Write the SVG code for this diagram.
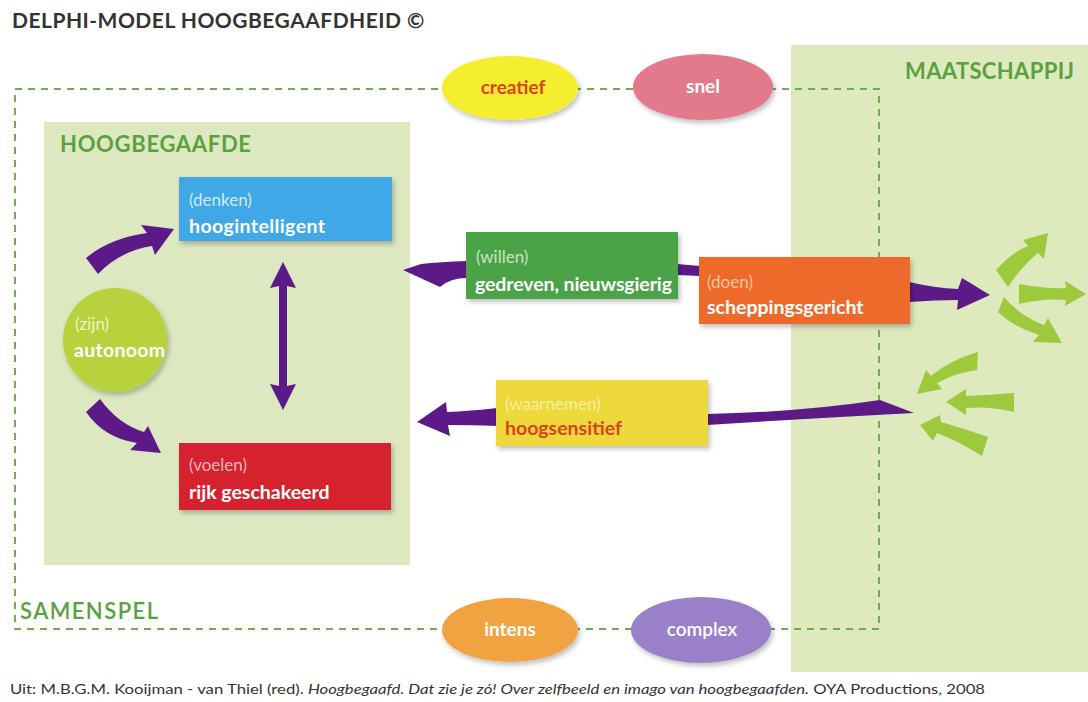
<svg xmlns="http://www.w3.org/2000/svg" width="1088" height="702" viewBox="0 0 1088 702">
<defs>
<filter id="sh" x="-10%" y="-10%" width="130%" height="140%">
<feDropShadow dx="2" dy="3" stdDeviation="2.5" flood-color="#000" flood-opacity="0.25"/>
</filter>
<style>
.t{font-family:Lato,"Open Sans","Liberation Sans",sans-serif}
.lbl{font-weight:700;fill:#5aa140;font-size:22px;letter-spacing:1px}
.sub{font-size:17px;font-weight:400}
.main{font-size:19.5px;font-weight:700;fill:#fff}
.pur{fill:#5c1a88}
.lg{fill:#9dc93c}
.dash{fill:none;stroke:#6fae4f;stroke-width:2;stroke-dasharray:7 6}
</style>
</defs>
<rect width="1088" height="702" fill="#fff"/>
<text class="t" x="12" y="28" font-size="21" font-weight="700" fill="#333" letter-spacing="0.6" textLength="413">DELPHI-MODEL HOOGBEGAAFDHEID ©</text>

<g id="maatschappij">
<rect x="791" y="45" width="297" height="627" fill="#dfe9be"/>
<text class="t lbl" x="905" y="79" textLength="170">MAATSCHAPPIJ</text>
</g>
<g id="hoogbegaafde">
<rect x="44" y="122" width="366" height="443" fill="#dde8c1"/>
<text class="t lbl" x="60" y="152" textLength="192">HOOGBEGAAFDE</text>
</g>
<g id="samenspel">
<rect class="dash" x="15" y="89" width="864" height="540"/>
<text class="t" x="20" y="619" font-size="22" font-weight="600" fill="#5aa140" textLength="138">SAMENSPEL</text>
</g>

<g id="connectors">
<path class="pur" d="M 86 258 Q 110 238 147 233 L 141 225 L 174 229 L 155 255 L 152 246 Q 120 251 98 274 Z"/>
<path class="pur" d="M 86 412 L 100 399 Q 118 424 144 432 L 148 426 L 161 453 L 130 450 L 137 443 Q 104 438 86 412 Z"/>
<path class="pur" d="M 283 262 L 296 288 L 287 286 L 287 386 L 296 384 L 283 410 L 270 384 L 279 386 L 279 286 L 270 288 Z"/>
<path class="pur" d="M 467 261 Q 440 262 421 264 L 403 270 L 440 287 Q 450 278 467 278 Z"/>
<path class="pur" d="M 677 264 L 700 266 L 700 276 L 677 275 Z"/>
<path class="pur" d="M 909 282 Q 935 288 958 289 L 962 278 L 990 295 L 957 310 L 958 300 Q 935 300 909 302 Z"/>
<path class="pur" d="M 707 414 Q 800 412 880 400 L 914 413 Q 800 419 707 425 Z"/>
<path class="pur" d="M 497 408 Q 470 411 447 412 L 446 402 L 417 422 L 450 436 L 448 425 Q 470 425 497 426 Z"/>
</g>

<g id="maatschappij-arrows">
<path class="lg" d="M 996 270 Q 1012 252 1028 246 L 1023 240 L 1048 233 L 1044 259 L 1038 253 Q 1022 266 1008 287 Z"/>
<path class="lg" d="M 1019 284 Q 1045 289 1066 288 L 1065 281 L 1086 294 L 1065 306 L 1066 300 Q 1045 298 1019 304 Z"/>
<path class="lg" d="M 1004 297 Q 1020 316 1044 325 L 1048 318 L 1062 343 L 1033 342 L 1039 335 Q 1012 326 998 312 Z"/>
<path class="lg" d="M 978 352 Q 950 360 931 376 L 926 370 L 917 394 L 942 389 L 937 383 Q 955 373 977 370 Z"/>
<path class="lg" d="M 1014 393 Q 990 395 966 396 L 966 389 L 946 402 L 966 415 L 966 408 Q 990 406 1014 412 Z"/>
<path class="lg" d="M 988 437 Q 962 428 941 422 L 940 415 L 920 425 L 933 441 L 937 433 Q 960 442 982 456 Z"/>
</g>

<g id="creatief">
<ellipse cx="510" cy="88" rx="68" ry="32" fill="#f5ee2d" filter="url(#sh)"/>
<text class="t" x="513" y="94" text-anchor="middle" font-size="19" font-weight="700" fill="#d8451c">creatief</text>
</g>
<g id="snel">
<ellipse cx="703" cy="87" rx="70" ry="33" fill="#e27a8b" filter="url(#sh)"/>
<text class="t" x="703" y="93" text-anchor="middle" font-size="19" font-weight="700" fill="#fff">snel</text>
</g>
<g id="intens">
<ellipse cx="510" cy="630" rx="68" ry="32" fill="#f0a33f" filter="url(#sh)"/>
<text class="t" x="510" y="636" text-anchor="middle" font-size="19" font-weight="700" fill="#fff">intens</text>
</g>
<g id="complex">
<ellipse cx="701" cy="630" rx="70" ry="33" fill="#9a7fc9" filter="url(#sh)"/>
<text class="t" x="702" y="636" text-anchor="middle" font-size="19" font-weight="600" fill="#fff">complex</text>
</g>

<g id="hoogintelligent">
<rect x="179" y="177" width="213" height="64" fill="#3fa8e6" filter="url(#sh)"/>
<text class="t sub" x="189" y="206" fill="#cfe8f8">(denken)</text>
<text class="t main" x="189" y="233" textLength="136">hoogintelligent</text>
</g>
<g id="rijk-geschakeerd">
<rect x="179" y="443" width="212" height="67" fill="#d6232d" filter="url(#sh)"/>
<text class="t sub" x="189" y="471" fill="#f2b8b8">(voelen)</text>
<text class="t main" x="189" y="499">rijk geschakeerd</text>
</g>
<g id="autonoom">
<circle cx="115" cy="340" r="52" fill="#b7d23c" filter="url(#sh)"/>
<text class="t sub" x="75" y="330" fill="#eef5c8">(zijn)</text>
<text class="t main" x="74" y="357" textLength="91">autonoom</text>
</g>
<g id="gedreven">
<rect x="466" y="232" width="212" height="67" fill="#4ca346" filter="url(#sh)"/>
<text class="t sub" x="476" y="263" fill="#c8e6c0">(willen)</text>
<text class="t main" x="475" y="291" textLength="197">gedreven, nieuwsgierig</text>
</g>
<g id="scheppingsgericht">
<rect x="699" y="257" width="211" height="67" fill="#ee6a2b" filter="url(#sh)"/>
<text class="t sub" x="707" y="288" fill="#f9c49f">(doen)</text>
<text class="t main" x="707" y="314">scheppingsgericht</text>
</g>
<g id="hoogsensitief">
<rect x="496" y="380" width="212" height="66" fill="#edd93b" filter="url(#sh)"/>
<text class="t sub" x="505" y="410" fill="#f8ee9c">(waarnemen)</text>
<text class="t" x="505" y="435" font-size="19.5" font-weight="700" fill="#d8451c">hoogsensitief</text>
</g>

<text class="t" x="10" y="694" font-size="14" fill="#333" textLength="975" lengthAdjust="spacingAndGlyphs">Uit: M.B.G.M. Kooijman - van Thiel (red). <tspan font-style="italic">Hoogbegaafd. Dat zie je zó! Over zelfbeeld en imago van hoogbegaafden.</tspan> OYA Productions, 2008</text>
</svg>
